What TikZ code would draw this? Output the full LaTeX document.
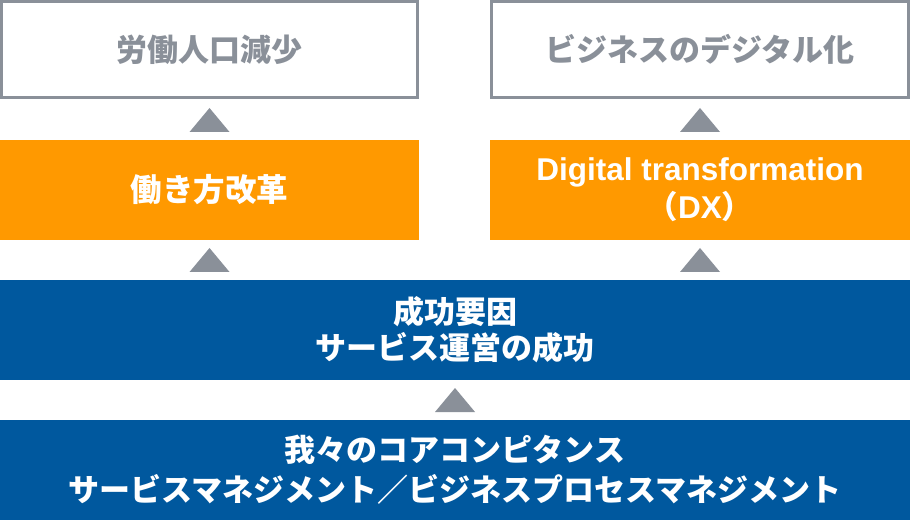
\documentclass[tikz,border=0pt]{standalone}
\usepackage{fontspec}
\setmainfont{Liberation Sans}
\newfontfamily\jp{Noto Sans CJK JP}
\usetikzlibrary{calc, positioning}
\definecolor{boxgray}{HTML}{8A9099}
\definecolor{dxorange}{HTML}{FF9900}
\definecolor{coreblue}{HTML}{00589E}

\begin{document}
\begin{tikzpicture}[x=1pt, y=1pt,
    every node/.style={inner sep=0pt, outer sep=0pt, align=center},
    goalbox/.style={draw=boxgray, line width=3pt, fill=white, text=boxgray,
        minimum height=96pt, font=\jp\bfseries\fontsize{31}{36}\selectfont},
    meansbox/.style={fill=dxorange, text=white, minimum height=100pt,
        font=\bfseries\fontsize{31.5}{38}\selectfont},
    basebox/.style={fill=coreblue, text=white, minimum width=910pt,
        minimum height=100pt, font=\jp\bfseries\fontsize{31}{36}\selectfont},
    uptri/.style={fill=boxgray}
]

% --- MACRO: UP TRIANGLE ABOVE A POINT ---
% #1: point on the top edge of the lower box
\newcommand{\upTri}[1]{
    \fill[uptri] ($(#1)+(-20,8)$) -- ++(40,0) -- ++(-20,24) -- cycle;
}

\useasboundingbox (0,0) rectangle (910,520);

% --- GOALS ---
\node[goalbox, minimum width=416pt] (labor) at (209.5,470.5) {労働人口減少};
\node[goalbox, minimum width=417pt] (bizdigital) at (700,470.5) {ビジネスのデジタル化};

% --- MEANS ---
\node[meansbox, minimum width=419pt] (workstyle) at (209.5,330)
    {\jp 働き方改革};
\node[meansbox, minimum width=420pt] (dx) at (700,330)
    {\raisebox{-3pt}{Digital transformation}\\\raisebox{-3pt}{{\jp （}DX{\jp ）}}};

% --- BASE ---
\node[basebox] (factor) at (455,190)
    {成功要因\\サービス運営の成功};
\node[basebox, font=\jp\bfseries\fontsize{31}{40}\selectfont] (core) at (455,50)
    {我々のコアコンピタンス\\サービスマネジメント／ビジネスプロセスマネジメント};

% --- TRIANGLES ---
\upTri{workstyle.north}
\upTri{dx.north}
\upTri{workstyle.south |- factor.north}
\upTri{dx.south |- factor.north}
\upTri{core.north}

\end{tikzpicture}
\end{document}
